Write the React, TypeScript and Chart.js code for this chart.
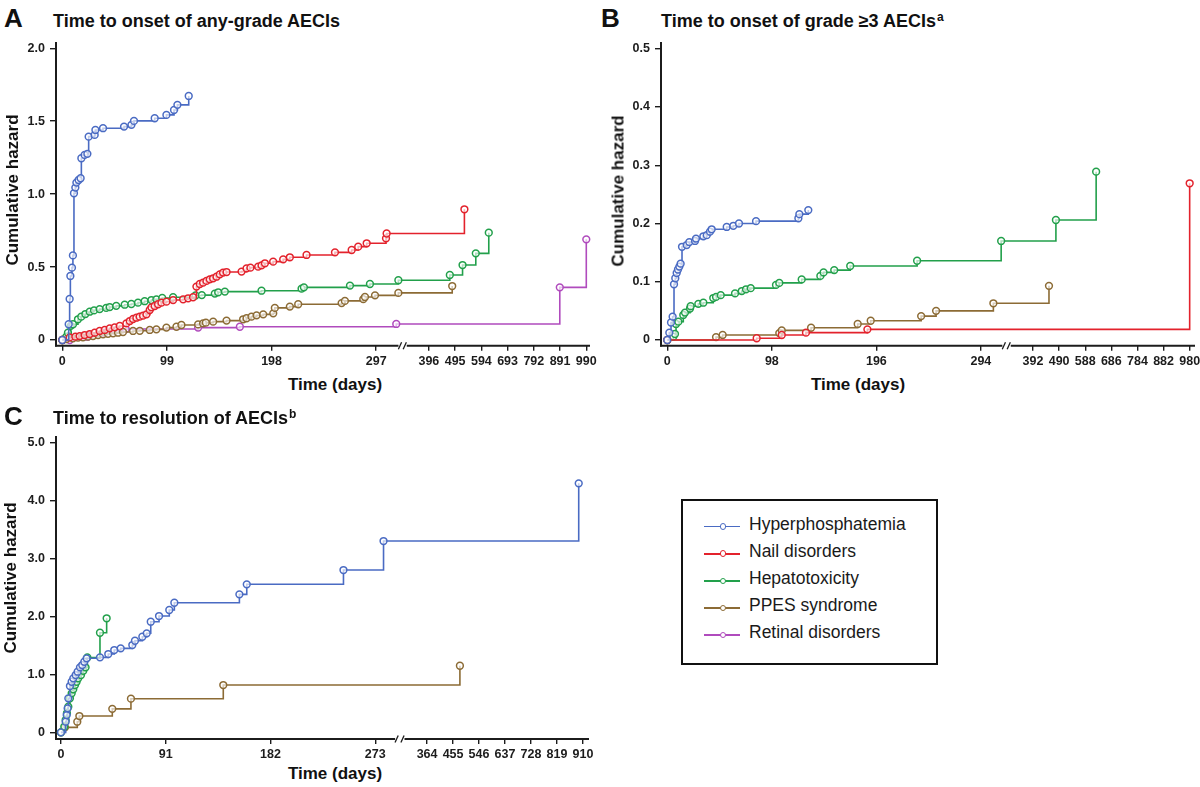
import React, { useEffect, useRef } from 'react';
import { Chart, registerables, LinearScale } from 'chart.js';

const FONT = "'Liberation Sans', Arial, Helvetica, sans-serif";
const AXIS_COLOR = '#1c1c1c';

// ---------- series ----------
const SERIES_NAMES = ['Hyperphosphatemia', 'Nail disorders', 'Hepatotoxicity', 'PPES syndrome', 'Retinal disorders'];
const SERIES_COLORS = ['#4a6bc3', '#e3222c', '#22a04b', '#8c6b35', '#b04bbd'];

// ---------- Panel A: time to onset of any-grade AECIs ----------
const A_X_TICKS = [0, 99, 198, 297, 396, 495, 594, 693, 792, 891, 990];
const A_Y_TICKS = [0, 0.5, 1, 1.5, 2];
const A_HYPER_DAYS = [0, 6, 6.9, 7.6, 9.1, 10, 11, 12.3, 13.3, 15.4, 17.3, 18, 21.1, 23.7, 24.9, 30.6, 31.3, 38.5, 58.4, 65.4, 67.8, 87.4, 98.5, 105.7, 108.9, 119.6];
const A_HYPER_H = [0, 0.108, 0.281, 0.439, 0.496, 0.58, 1.006, 1.045, 1.079, 1.097, 1.109, 1.246, 1.269, 1.276, 1.394, 1.406, 1.44, 1.452, 1.463, 1.475, 1.502, 1.52, 1.543, 1.577, 1.612, 1.673];
const A_NAIL_DAYS = [0, 6.9, 12.3, 16.4, 21.1, 25.9, 30.6, 35.3, 40.1, 44.8, 49.5, 54.3, 60.6, 63.8, 66.9, 70.1, 73.2, 76.4, 79.6, 82.7, 84.3, 87.4, 90.6, 93.8, 98.5, 104.8, 114.3, 119, 123.7, 126.9, 130.1, 133.2, 136.4, 139.5, 142.7, 145.9, 149, 152.1, 155.4, 169.6, 174.3, 178, 185.3, 188.5, 191.7, 199.5, 209, 215.3, 231.1, 258, 273.8, 280, 288, 306.3, 306.9, 530];
const A_NAIL_H = [0, 0.018, 0.023, 0.027, 0.034, 0.041, 0.05, 0.062, 0.069, 0.08, 0.087, 0.096, 0.114, 0.13, 0.144, 0.153, 0.16, 0.167, 0.176, 0.206, 0.224, 0.233, 0.245, 0.256, 0.263, 0.274, 0.279, 0.286, 0.293, 0.366, 0.384, 0.393, 0.405, 0.416, 0.423, 0.434, 0.45, 0.462, 0.466, 0.469, 0.491, 0.496, 0.503, 0.512, 0.526, 0.537, 0.553, 0.567, 0.583, 0.601, 0.617, 0.64, 0.663, 0.697, 0.73, 0.896];
const A_HEPA_DAYS = [0, 3.8, 5.3, 7.9, 10.1, 14.8, 17.9, 21.8, 25.9, 30, 35.3, 41.5, 44.8, 51, 59, 65.3, 71.6, 77.9, 84.3, 89, 94.5, 104.8, 126, 132, 144.3, 147.5, 153.8, 188.5, 226.4, 228.6, 272.2, 291.1, 318, 475, 523, 573, 622];
const A_HEPA_H = [0, 0.023, 0.05, 0.097, 0.108, 0.142, 0.16, 0.178, 0.194, 0.203, 0.212, 0.22, 0.226, 0.234, 0.242, 0.247, 0.256, 0.266, 0.274, 0.279, 0.288, 0.293, 0.305, 0.308, 0.318, 0.327, 0.332, 0.338, 0.352, 0.361, 0.373, 0.384, 0.41, 0.446, 0.514, 0.594, 0.736];
const A_PPES_DAYS = [0, 3.8, 10, 14.8, 19.5, 24.3, 29, 33.8, 38.5, 43.2, 48, 52.7, 57.4, 66.9, 73.3, 82.7, 89, 98.5, 108, 112.7, 128.5, 133.2, 135.8, 142.7, 155.4, 171.1, 174.3, 179, 183.8, 190.1, 199.6, 201.1, 215.3, 223.2, 264.3, 267.4, 284.8, 286.4, 295.9, 318, 484];
const A_PPES_H = [0, 0.007, 0.011, 0.016, 0.018, 0.023, 0.027, 0.034, 0.039, 0.043, 0.046, 0.05, 0.055, 0.062, 0.063, 0.069, 0.073, 0.085, 0.091, 0.103, 0.107, 0.114, 0.119, 0.126, 0.133, 0.142, 0.149, 0.16, 0.169, 0.176, 0.183, 0.22, 0.229, 0.245, 0.253, 0.268, 0.28, 0.295, 0.306, 0.323, 0.37];
const A_RETI_DAYS = [0, 7, 25, 40, 50, 60, 128.5, 168, 316, 890, 990];
const A_RETI_H = [0, 0, 0.03, 0.05, 0.065, 0.075, 0.085, 0.091, 0.11, 0.361, 0.69];

// ---------- Panel B: time to onset of grade >=3 AECIs ----------
const B_X_TICKS = [0, 98, 196, 294, 392, 490, 588, 686, 784, 882, 980];
const B_Y_TICKS = [0, 0.1, 0.2, 0.3, 0.4, 0.5];
const B_HYPER_DAYS = [0, 1.9, 3.5, 5, 6.3, 7.5, 8.8, 10, 11.3, 12.5, 13.8, 18.2, 20.6, 26, 26.9, 33.8, 37, 40, 41.6, 55.7, 61.9, 67.2, 83.2, 122.9, 123.8, 132.2];
const B_HYPER_H = [0, 0.0126, 0.03, 0.04, 0.0957, 0.106, 0.115, 0.121, 0.126, 0.131, 0.16, 0.163, 0.168, 0.17, 0.174, 0.178, 0.18, 0.186, 0.19, 0.194, 0.196, 0.2, 0.204, 0.209, 0.216, 0.223];
const B_NAIL_DAYS = [0, 83.8, 107.3, 130, 187.6, 980];
const B_NAIL_H = [0, 0.003, 0.0086, 0.0126, 0.0183, 0.269];
const B_HEPA_DAYS = [0, 5.6, 7.2, 8.2, 10.4, 15, 16.6, 21.3, 21.9, 29.1, 33.8, 43.1, 45.7, 50.1, 63.5, 69.8, 73.8, 78.2, 101.9, 105, 126, 143.5, 146.5, 156.5, 171.5, 234.2, 313, 478, 629];
const B_HEPA_H = [0, 0.0057, 0.0103, 0.0275, 0.0315, 0.043, 0.047, 0.054, 0.058, 0.062, 0.064, 0.072, 0.074, 0.077, 0.08, 0.084, 0.087, 0.089, 0.0945, 0.098, 0.104, 0.11, 0.116, 0.12, 0.127, 0.136, 0.17, 0.206, 0.289];
const B_PPES_DAYS = [0, 45.7, 51.9, 105, 107.3, 134.8, 178.5, 190.7, 238, 252, 305.7, 452];
const B_PPES_H = [0, 0.005, 0.0086, 0.0118, 0.0165, 0.021, 0.0275, 0.033, 0.041, 0.05, 0.063, 0.093];

// ---------- Panel C: time to resolution of AECIs ----------
const C_X_TICKS = [0, 91, 182, 273, 364, 455, 546, 637, 728, 819, 910];
const C_Y_TICKS = [0, 1, 2, 3, 4, 5];
const C_HYPER_DAYS = [0, 4.1, 5, 5.8, 6.4, 7.8, 9.3, 10.7, 12.8, 14.5, 16.5, 18.5, 20.3, 22.3, 33.9, 41.1, 46.3, 51.9, 62, 64.3, 70.7, 74.5, 78, 85.2, 94.1, 98.5, 155, 161.4, 245.4, 280.2, 895];
const C_HYPER_H = [0, 0.183, 0.298, 0.414, 0.586, 0.798, 0.872, 0.931, 0.988, 1.045, 1.12, 1.16, 1.217, 1.276, 1.293, 1.35, 1.419, 1.448, 1.505, 1.579, 1.648, 1.707, 1.907, 2.005, 2.109, 2.234, 2.379, 2.552, 2.798, 3.298, 4.293];
const C_HEPA_DAYS = [0, 2.9, 4.1, 5.2, 6.4, 7.8, 9.3, 10.7, 12.2, 13.6, 15, 17.4, 19.4, 21.4, 22.9, 33.9, 39.7];
const C_HEPA_H = [0, 0.097, 0.212, 0.328, 0.441, 0.586, 0.672, 0.741, 0.816, 0.872, 0.931, 0.988, 1.062, 1.12, 1.29, 1.717, 1.966];
const C_PPES_DAYS = [0, 3.5, 14.2, 16, 44.6, 60.8, 141, 479];
const C_PPES_H = [0, 0.086, 0.183, 0.281, 0.405, 0.58, 0.815, 1.148];

// ---------- broken x scale ----------
class BrokenLinearScale extends (LinearScale as any) {
  static id = 'brokenLinear';
  static defaults = { ...(LinearScale as any).defaults };

  buildTicks() {
    const o: any = this.options;
    this.start = this.min;
    this.end = this.max;
    const vals: number[] = Array.from(o.tickValues || []);
    return vals.map((v) => ({ value: v }));
  }
  valueToDecimal(v: number) {
    const b: any = this.options.breakCfg;
    const min = this.min, max = this.max;
    if (v <= b.brk) return ((v - min) / (b.brk - min)) * b.leftFrac;
    return b.leftFrac + b.gapFrac + ((v - b.brk) / (max - b.brk)) * (1 - b.leftFrac - b.gapFrac);
  }
  getPixelForValue(v: number) {
    if (v === null || v === undefined || isNaN(v)) return NaN;
    return this.getPixelForDecimal(this.valueToDecimal(v));
  }
  getValueForPixel(p: number) {
    const b: any = this.options.breakCfg;
    const f = this.getDecimalForPixel(p);
    if (f <= b.leftFrac) return this.min + (f / b.leftFrac) * (b.brk - this.min);
    if (f < b.leftFrac + b.gapFrac) return b.brk;
    return b.brk + ((f - b.leftFrac - b.gapFrac) / (1 - b.leftFrac - b.gapFrac)) * (this.max - b.brk);
  }
}

Chart.register(...registerables, BrokenLinearScale as any);

const brokenAxisPlugin = {
  id: 'brokenAxis',
  afterDraw(chart: any) {
    const xs: any = chart.scales.x;
    const b: any = xs.options.breakCfg;
    const { left, right, bottom } = chart.chartArea;
    const g0 = xs.getPixelForDecimal(b.leftFrac);
    const g1 = xs.getPixelForDecimal(b.leftFrac + b.gapFrac);
    const ctx = chart.ctx;
    ctx.save();
    ctx.strokeStyle = AXIS_COLOR;
    ctx.lineWidth = 2;
    ctx.beginPath();
    ctx.moveTo(left - 1, bottom);
    ctx.lineTo(g0 - 2, bottom);
    ctx.moveTo(g1 - 2, bottom);
    ctx.lineTo(right, bottom);
    ctx.stroke();
    ctx.lineWidth = 1.3;
    for (const gx of [g0 - 0.5, g1 - 4]) {
      ctx.beginPath();
      ctx.moveTo(gx - 1.6, bottom + 3.5);
      ctx.lineTo(gx + 1.6, bottom - 3.5);
      ctx.stroke();
    }
    ctx.restore();
  },
};

type Series = { name: string; color: string; days: number[]; h: number[] };
const S = (i: number, days: number[], h: number[]): Series => ({ name: SERIES_NAMES[i], color: SERIES_COLORS[i], days, h });

const PANELS = [
  {
    key: 'A', left: 0, top: 35, width: 600, height: 335, padTop: 8, padRight: 10, yAxisWidth: 56, xAxisHeight: 24.3,
    xMin: -6, xMax: 1004, brk: 320, leftFrac: 0.6451, gapFrac: 0.0155, xTicks: A_X_TICKS,
    yMin: -0.039, yMax: 2.036, yTicks: A_Y_TICKS,
    series: [S(0, A_HYPER_DAYS, A_HYPER_H), S(1, A_NAIL_DAYS, A_NAIL_H), S(2, A_HEPA_DAYS, A_HEPA_H), S(3, A_PPES_DAYS, A_PPES_H), S(4, A_RETI_DAYS, A_RETI_H)],
  },
  {
    key: 'B', left: 600, top: 35, width: 600, height: 335, padTop: 8, padRight: 5, yAxisWidth: 61, xAxisHeight: 24.3,
    xMin: -5.9, xMax: 1000, brk: 316, leftFrac: 0.643, gapFrac: 0.0157, xTicks: B_X_TICKS,
    yMin: -0.0098, yMax: 0.5098, yTicks: B_Y_TICKS,
    series: [S(0, B_HYPER_DAYS, B_HYPER_H), S(1, B_NAIL_DAYS, B_NAIL_H), S(2, B_HEPA_DAYS, B_HEPA_H), S(3, B_PPES_DAYS, B_PPES_H)],
  },
  {
    key: 'C', left: 0, top: 430, width: 600, height: 333, padTop: 6.7, padRight: 11, yAxisWidth: 56, xAxisHeight: 24,
    xMin: -4.3, xMax: 931, brk: 292, leftFrac: 0.64, gapFrac: 0.0176, xTicks: C_X_TICKS,
    yMin: -0.115, yMax: 5.097, yTicks: C_Y_TICKS,
    series: [S(0, C_HYPER_DAYS, C_HYPER_H), S(2, C_HEPA_DAYS, C_HEPA_H), S(3, C_PPES_DAYS, C_PPES_H)],
  },
];

function Panel({ p }: { p: any }) {
  const ref = useRef<HTMLCanvasElement | null>(null);
  useEffect(() => {
    if (!ref.current) return;
    const tickFont = { family: FONT, size: 12.5, weight: 'bold' as const };
    const gridOpts = (len: number) => ({
      display: true, drawOnChartArea: false, drawTicks: true, tickLength: len, color: AXIS_COLOR, lineWidth: 1.4,
    });
    const chart = new Chart(ref.current, {
      type: 'line',
      data: {
        datasets: p.series.map((s: Series) => ({
          label: s.name,
          data: s.days.map((d, i) => ({ x: d, y: s.h[i] })),
          borderColor: s.color,
          backgroundColor: s.color,
          borderWidth: 1.6,
          stepped: true,
          pointRadius: 3.4,
          pointHoverRadius: 3.4,
          pointBorderWidth: 1.5,
          pointBorderColor: s.color,
          pointBackgroundColor: 'rgba(255,255,255,0.65)',
          clip: false,
        })),
      },
      options: {
        responsive: false,
        animation: false,
        events: [],
        layout: { padding: { left: 0, top: p.padTop, right: p.padRight, bottom: 0 } },
        plugins: { legend: { display: false }, tooltip: { enabled: false }, title: { display: false } },
        scales: {
          x: {
            type: 'brokenLinear',
            position: 'bottom',
            min: p.xMin,
            max: p.xMax,
            tickValues: p.xTicks,
            breakCfg: { brk: p.brk, leftFrac: p.leftFrac, gapFrac: p.gapFrac },
            border: { display: false },
            grid: gridOpts(5),
            ticks: {
              autoSkip: false, maxRotation: 0, minRotation: 0, padding: 3, color: AXIS_COLOR, font: tickFont,
              callback: (v: any) => String(v),
            },
            afterFit: (s: any) => { s.height = p.xAxisHeight; s.paddingLeft = 0; s.paddingRight = 0; },
          } as any,
          y: {
            type: 'linear',
            position: 'left',
            min: p.yMin,
            max: p.yMax,
            afterBuildTicks: (s: any) => { s.ticks = p.yTicks.map((v: number) => ({ value: v })); },
            border: { display: true, color: AXIS_COLOR, width: 2 },
            grid: gridOpts(6),
            ticks: {
              padding: 5, color: AXIS_COLOR, font: tickFont,
              callback: (v: any) => (Number(v) === 0 ? '0' : Number(v).toFixed(1)),
            },
            afterFit: (s: any) => { s.width = p.yAxisWidth; s.paddingTop = 0; s.paddingBottom = 0; },
          },
        },
      } as any,
      plugins: [brokenAxisPlugin],
    });
    return () => chart.destroy();
  }, [p]);
  return (
    <canvas
      ref={ref}
      width={p.width}
      height={p.height}
      style={{ position: 'absolute', left: p.left, top: p.top, width: p.width, height: p.height }}
    />
  );
}

const Txt = ({ left, top, size, weight = 'bold', children, style }: any) => (
  <div style={{ position: 'absolute', left, top, fontSize: size, lineHeight: `${size}px`, fontWeight: weight, whiteSpace: 'nowrap', ...style }}>
    {children}
  </div>
);

const XTitle = ({ cx, top }: any) => (
  <Txt left={cx - 80} top={top} size={17} style={{ width: 160, textAlign: 'center' }}>Time (days)</Txt>
);

const YTitle = ({ cx, cy }: any) => (
  <div style={{
    position: 'absolute', left: cx, top: cy, fontSize: 17, lineHeight: '17px', fontWeight: 'bold', whiteSpace: 'nowrap',
    transform: 'translate(-50%, -50%) rotate(-90deg)',
  }}>Cumulative hazard</div>
);

const Sup = ({ children }: any) => (
  <span style={{ fontSize: 12, position: 'relative', top: -6, marginLeft: 1, fontWeight: 'bold' }}>{children}</span>
);

function Legend() {
  const rowY = (i: number) => 526.7 + i * 27.05;
  return (
    <>
      <div style={{ position: 'absolute', left: 680.5, top: 499, width: 257, height: 166, border: '2.5px solid #111', boxSizing: 'border-box' }} />
      {SERIES_NAMES.map((name, i) => (
        <React.Fragment key={name}>
          <div style={{ position: 'absolute', left: 704, top: rowY(i) - 0.75, width: 36, height: 1.5, background: SERIES_COLORS[i] }} />
          <div style={{
            position: 'absolute', left: 723 - 3.3, top: rowY(i) - 3.3, width: 6.6, height: 6.6, borderRadius: '50%',
            border: `1.3px solid ${SERIES_COLORS[i]}`, background: '#fff', boxSizing: 'border-box',
          }} />
          <Txt left={749} top={rowY(i) - 10.8} size={17.5} weight="normal" style={{ color: '#1a1a1a' }}>{name}</Txt>
        </React.Fragment>
      ))}
    </>
  );
}

export default function App() {
  return (
    <div style={{
      position: 'absolute', left: 0, top: 0, width: 1200, height: 787, background: '#fff', overflow: 'hidden',
      fontFamily: FONT, color: '#111',
    }}>
      {PANELS.map((p) => <Panel key={p.key} p={p} />)}

      <Txt left={4} top={5} size={26}>A</Txt>
      <Txt left={53} top={11.5} size={18}>Time to onset of any-grade AECIs</Txt>
      <Txt left={601} top={5} size={26}>B</Txt>
      <Txt left={661} top={11.5} size={18}>Time to onset of grade ≥3 AECIs<Sup>a</Sup></Txt>
      <Txt left={4} top={403} size={26}>C</Txt>
      <Txt left={53} top={409} size={18}>Time to resolution of AECIs<Sup>b</Sup></Txt>

      <YTitle cx={11.7} cy={190} />
      <YTitle cx={617.5} cy={191} />
      <YTitle cx={9.7} cy={578} />

      <XTitle cx={335} top={375.6} />
      <XTitle cx={858} top={375.6} />
      <XTitle cx={335} top={764.6} />

      <Legend />
    </div>
  );
}
